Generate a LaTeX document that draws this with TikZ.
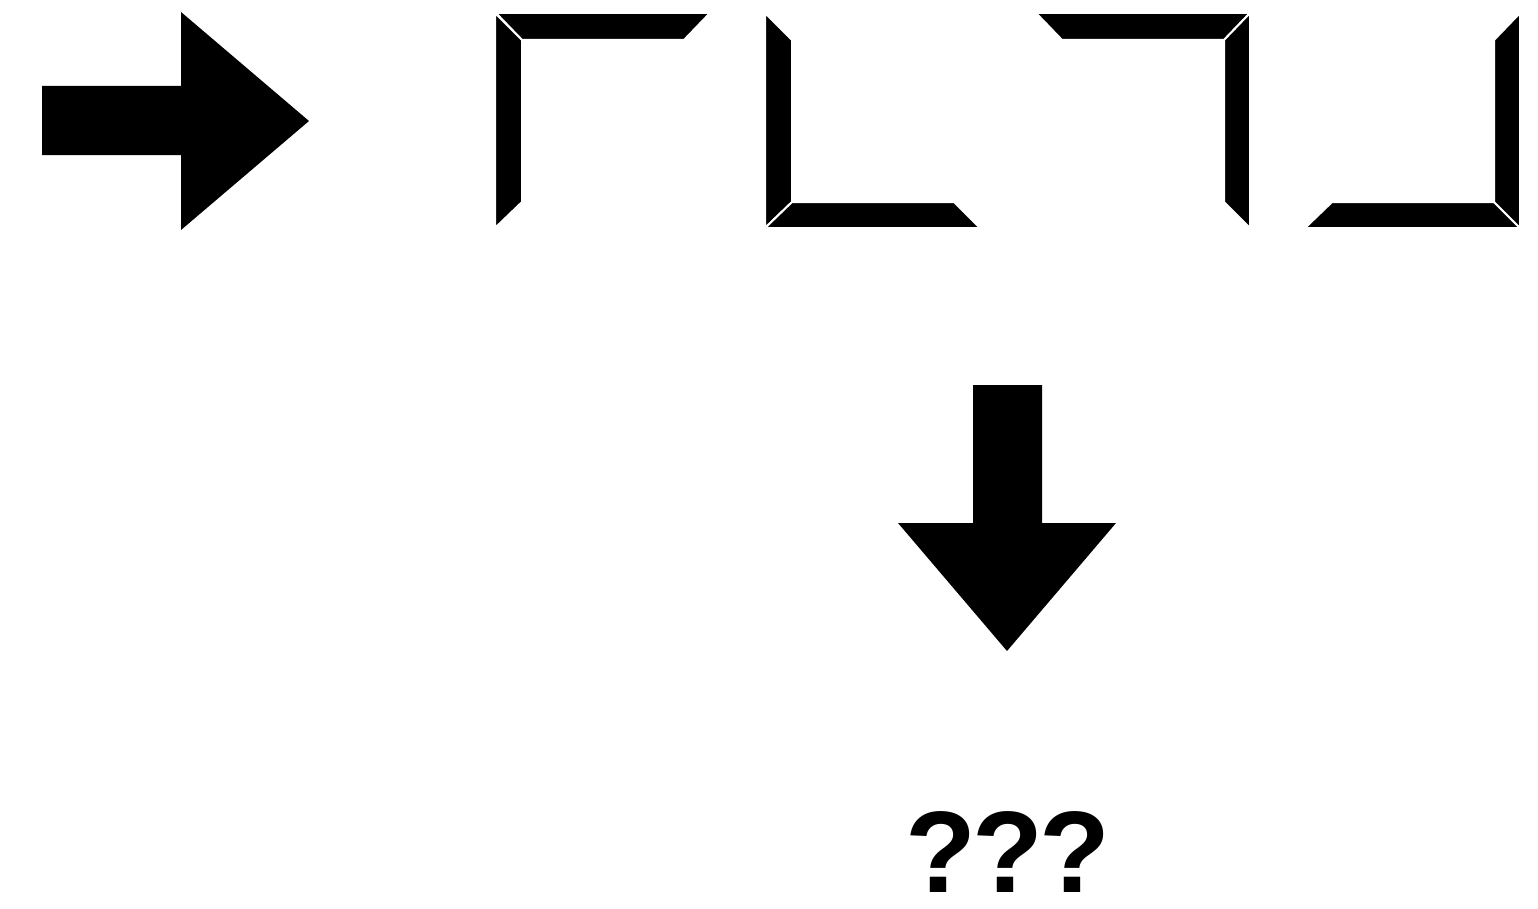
\documentclass[tikz,border=0pt]{standalone}
\usepackage{fontspec}
\usepackage{tikz}
\newfontfamily\qfont[LetterSpace=-3]{Liberation Sans}
\tikzset{
  % Corner segment of a glyph
  seg/.style={
    fill=black, draw=white, line width=0.04cm, line join=miter
  },
  % Block arrow
  blockarr/.style={fill=black, draw=none},
  % Question text
  qtxt/.style={font=\qfont\bfseries\fontsize{66}{66}\selectfont, inner sep=0pt}
}

\begin{document}
\begin{tikzpicture}[x=0.02cm, y=-0.02cm]

  \useasboundingbox (0,0) rectangle (1538,909);

  % Right arrow
  \fill[blockarr] (42,86) -- (181,86) -- (181,12) -- (309,121)
    -- (181,230) -- (181,155) -- (42,155) -- cycle;

  % Glyphs: top/left, left/bottom, top/right, right/bottom
  \foreach \ox/\t/\l/\b/\r in {496/1/1/0/0, 766/0/1/1/0, 1036/1/0/0/1, 1306/0/0/1/1}{
    \ifnum\t=1
      \filldraw[seg] (\ox,13) -- (\ox+214,13) -- (\ox+188,40) -- (\ox+26,40) -- cycle;
    \fi
    \ifnum\l=1
      \filldraw[seg] (\ox-1,13) -- (\ox+26,40) -- (\ox+26,202) -- (\ox-1,228) -- cycle;
    \fi
    \ifnum\b=1
      \filldraw[seg] (\ox-1,228) -- (\ox+26,202) -- (\ox+188,202) -- (\ox+214,228) -- cycle;
    \fi
    \ifnum\r=1
      \filldraw[seg] (\ox+214,13) -- (\ox+214,228) -- (\ox+188,202) -- (\ox+188,40) -- cycle;
    \fi
  }

  % Down arrow
  \fill[blockarr] (973,385) -- (1042,385) -- (1042,523) -- (1116,523)
    -- (1007,651) -- (898,523) -- (973,523) -- cycle;

  % Answer
  \node[qtxt] (answer) at (1008,852) {???};

\end{tikzpicture}
\end{document}
